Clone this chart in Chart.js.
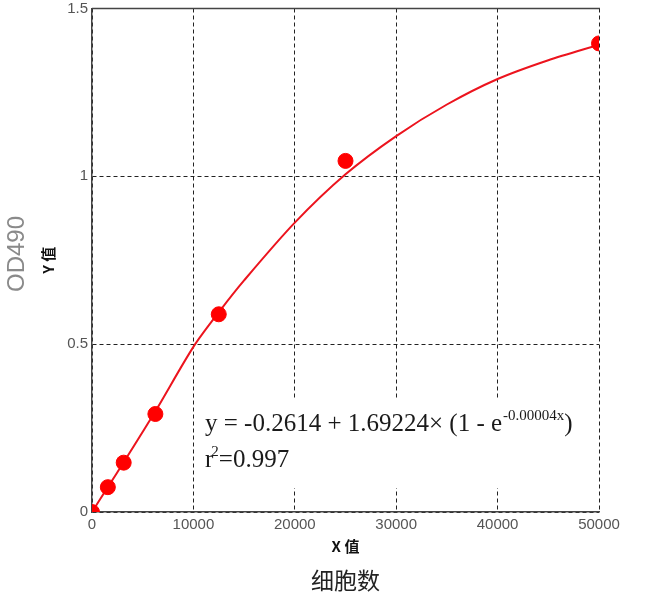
<!DOCTYPE html>
<html>
<head>
<meta charset="utf-8">
<script src="https://cdn.jsdelivr.net/npm/chart.js@4.4.1/dist/chart.umd.min.js"></script>
<style>
  html, body { margin: 0; padding: 0; background: #fff; }
</style>
</head>
<body>
<canvas id="myChart" width="649" height="607"></canvas>
<script>
// measured points: cell count vs OD490
const cell_counts = [0, 1562, 3125, 6250, 12500, 25000, 50000];
const od_values = [0, 0.074, 0.147, 0.292, 0.589, 1.046, 1.396];

// fitted curve
const curve_x = [0, 1562, 3125, 6250, 10000, 12500, 15000, 20000, 25000, 30000, 35000, 40000, 45000, 50000];
const curve_y = [0, 0.074, 0.148, 0.3, 0.492, 0.595, 0.69, 0.862, 1.006, 1.12, 1.214, 1.29, 1.346, 1.392];

const x_ticks = [0, 10000, 20000, 30000, 40000, 50000];
const y_ticks = [0, 0.5, 1, 1.5];

const eq_main = 'y = -0.2614 + 1.69224\u00d7 (1 - e';
const eq_power = '-0.00004x';
const r2_text = '=0.997';

function to_points(xs, ys) {
    return xs.map((x, i) => ({x: x, y: ys[i]}));
}

const tick_font = {family: '"Liberation Sans", Arial, sans-serif', size: 15};

// white box under the equation, top frame line, free texts
const extras = {
    id: 'extras',
    beforeDatasetsDraw(chart) {
        const {ctx, chartArea: a} = chart;
        ctx.save();
        ctx.fillStyle = '#fff';
        ctx.fillRect(a.left + 104, a.bottom - 114, a.right - a.left - 108, 90);
        ctx.strokeStyle = '#444';
        ctx.lineWidth = 1.5;
        ctx.beginPath();
        ctx.moveTo(a.left, a.top);
        ctx.lineTo(a.right + 1, a.top);
        ctx.stroke();
        ctx.restore();
    },
    afterDraw(chart) {
        const {ctx, chartArea: a} = chart;
        ctx.save();
        ctx.fillStyle = '#1a1a1a';
        ctx.textBaseline = 'alphabetic';
        ctx.textAlign = 'left';
        const serif = '"Liberation Serif", "Times New Roman", serif';
        let x = a.left + 113;
        let y = a.bottom - 81;
        ctx.font = '25px ' + serif;
        ctx.fillText(eq_main, x, y);
        x += ctx.measureText(eq_main).width + 1;
        ctx.font = '15px ' + serif;
        ctx.fillText(eq_power, x, y - 11);
        x += ctx.measureText(eq_power).width;
        ctx.font = '25px ' + serif;
        ctx.fillText(')', x, y);

        x = a.left + 113;
        y = a.bottom - 45;
        ctx.fillText('r', x, y);
        x += ctx.measureText('r').width;
        ctx.font = '15px ' + serif;
        ctx.fillText('2', x - 2, y - 11);
        x += ctx.measureText('2').width - 2;
        ctx.font = '25px ' + serif;
        ctx.fillText(r2_text, x, y);

        // x caption under the axis title
        ctx.textAlign = 'center';
        ctx.textBaseline = 'middle';
        ctx.fillStyle = '#222';
        ctx.font = '23px "Noto Sans CJK SC", sans-serif';
        ctx.fillText('细胞数', (a.left + a.right) / 2, 580);

        // y caption
        ctx.translate(17, 254);
        ctx.rotate(-Math.PI / 2);
        ctx.fillStyle = '#8a8a8a';
        ctx.font = '24px "Liberation Sans", Arial, sans-serif';
        ctx.fillText('OD490', 0, 0);
        ctx.restore();
    }
};

const ctx = document.getElementById('myChart').getContext('2d');
const myChart = new Chart(ctx, {
    type: 'scatter',
    data: {
        datasets: [{
            label: 'points',
            data: to_points(cell_counts, od_values),
            backgroundColor: 'rgb(255,0,0)',
            borderColor: 'rgb(255,0,0)',
            pointRadius: 7.5,
            showLine: false
        }, {
            label: 'fit',
            data: to_points(curve_x, curve_y),
            borderColor: 'rgb(236,20,30)',
            borderWidth: 2,
            pointRadius: 0,
            showLine: true,
            tension: 0.3
        }]
    },
    options: {
        responsive: false,
        animation: false,
        layout: {padding: {top: 7, right: 50, bottom: 0, left: 0}},
        plugins: {legend: {display: false}, tooltip: {enabled: false}},
        scales: {
            x: {
                type: 'linear',
                min: 0,
                max: 50000,
                afterBuildTicks: s => { s.ticks = x_ticks.map(v => ({value: v})); },
                afterFit: s => { s.height = 95; },
                grid: {color: '#222', lineWidth: 1, drawTicks: false},
                border: {color: '#444', width: 1.5, dash: [4, 3]},
                ticks: {color: '#555', font: tick_font, padding: 4, maxRotation: 0, autoSkip: false,
                    callback: v => String(v)},
                title: {display: true, text: 'X 值', color: '#111',
                    font: {family: '"Noto Sans CJK SC", sans-serif', size: 15, weight: 'bold'},
                    padding: {top: 0, bottom: 52}}
            },
            y: {
                type: 'linear',
                min: 0,
                max: 1.5,
                afterBuildTicks: s => { s.ticks = y_ticks.map(v => ({value: v})); },
                afterFit: s => { s.width = 92; s.paddingTop = 0; },
                grid: {color: '#222', lineWidth: 1, drawTicks: false},
                border: {color: '#444', width: 1.5, dash: [4, 3]},
                ticks: {color: '#555', font: tick_font, padding: 4, callback: v => String(v)},
                title: {display: true, text: 'Y 值', color: '#111',
                    font: {family: '"Noto Sans CJK SC", sans-serif', size: 15, weight: 'bold'},
                    padding: {top: 39, bottom: 0}}
            }
        }
    },
    plugins: [extras]
});
</script>
</body>
</html>
